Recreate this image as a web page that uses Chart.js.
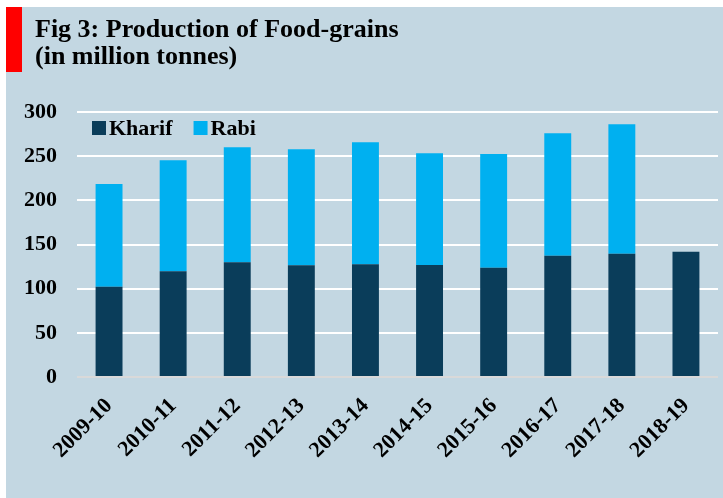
<!DOCTYPE html>
<html>
<head>
<meta charset="utf-8">
<script src="https://cdn.jsdelivr.net/npm/chart.js@4"></script>
<style>
  body { margin: 0; background: #ffffff; }
  #panel { position: absolute; left: 6px; top: 7px; width: 717px; height: 491px; background: #c3d7e2; }
  #redbar { position: absolute; left: 6px; top: 7px; width: 16px; height: 65px; background: #ff0000; }
  #title { position: absolute; left: 35px; top: 15px; font: bold 26px "Liberation Serif", serif; line-height: 27px; color: #000; }
  #chart { position: absolute; left: 0; top: 0; }
</style>
</head>
<body>
<div id="panel"><canvas id="chart" width="717" height="491"></canvas></div>
<div id="redbar"></div>
<div id="title">Fig 3: Production of Food-grains<br>(in million tonnes)</div>
<script>
// data
var years = ["2009-10", "2010-11", "2011-12", "2012-13", "2013-14", "2014-15", "2015-16", "2016-17", "2017-18", "2018-19"];
var kharif = [102.2, 119.6, 129.8, 126.6, 127.6, 126.8, 123.8, 137.3, 139.6, 141.9];
var rabi = [116.3, 125.7, 130.2, 131.2, 138.1, 126.4, 128.7, 138.6, 146.5, null];
var yTicks = [0, 50, 100, 150, 200, 250, 300];

var serif = "'Liberation Serif', serif";

// legend drawn inside the plot, top-left
var innerLegend = {
  id: "innerLegend",
  afterDraw: function (chart) {
    var ctx = chart.ctx;
    var x = chart.chartArea.left + 15;
    var y = chart.chartArea.top + 16;
    ctx.save();
    ctx.font = "bold 22px " + serif;
    ctx.textBaseline = "middle";
    ctx.textAlign = "left";
    chart.data.datasets.forEach(function (ds) {
      ctx.fillStyle = ds.backgroundColor;
      ctx.fillRect(x, y - 7, 14, 14);
      ctx.fillStyle = "#000";
      ctx.fillText(ds.label, x + 17, y + 1);
      x += 17 + ctx.measureText(ds.label).width + 21;
    });
    ctx.restore();
  },
};

new Chart(document.getElementById("chart").getContext("2d"), {
  type: "bar",
  data: {
    labels: years,
    datasets: [
      { label: "Kharif", data: kharif, backgroundColor: "#0a3d5a" },
      { label: "Rabi", data: rabi, backgroundColor: "#00b0f0" },
    ],
  },
  options: {
    responsive: false,
    animation: false,
    categoryPercentage: 1,
    barPercentage: 0.42,
    layout: { padding: { top: 105, right: 5, left: 0, bottom: 0 } },
    plugins: {
      legend: { display: false },
      tooltip: { enabled: false },
    },
    scales: {
      x: {
        stacked: true,
        grid: { display: false, drawTicks: false },
        border: { display: false },
        ticks: {
          color: "#000",
          font: { family: serif, size: 22, weight: "bold" },
          minRotation: 45,
          maxRotation: 45,
          padding: 16,
          labelOffset: 0,
        },
        afterFit: function (scale) {
          scale.height = 121;
        },
      },
      y: {
        stacked: true,
        min: 0,
        max: 300,
        afterBuildTicks: function (scale) {
          scale.ticks = yTicks.map(function (v) {
            return { value: v };
          });
        },
        grid: {
          drawTicks: false,
          lineWidth: 2,
          color: function (c) {
            return c.tick && c.tick.value === 0 ? "#d9d9d9" : "#ffffff";
          },
        },
        border: { display: false },
        ticks: {
          color: "#000",
          font: { family: serif, size: 22, weight: "bold" },
          padding: 20,
        },
        afterFit: function (scale) {
          scale.width = 71;
        },
      },
    },
  },
  plugins: [innerLegend],
});
</script>
</body>
</html>
